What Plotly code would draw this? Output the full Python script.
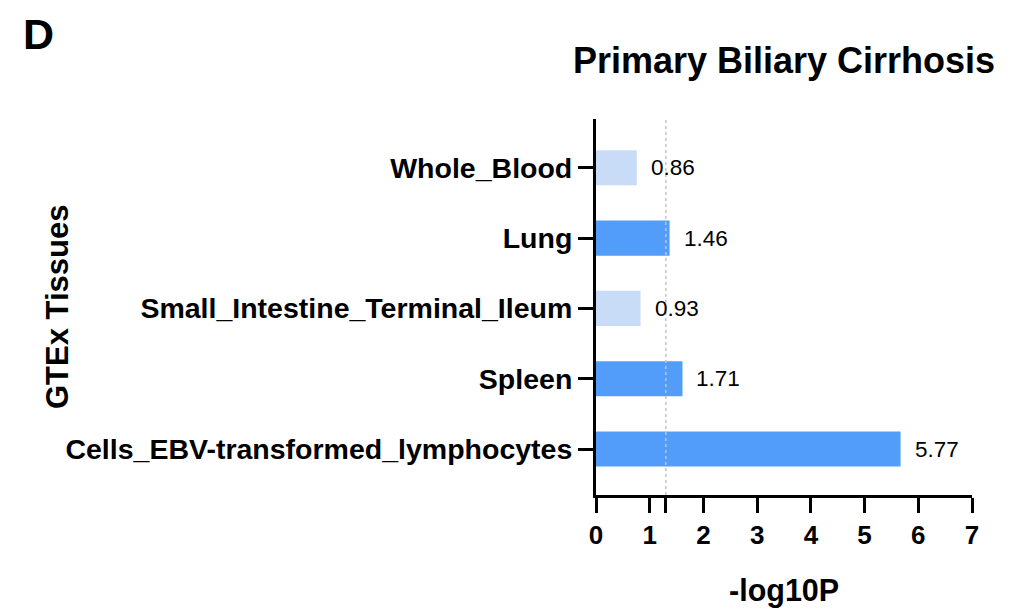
import plotly.graph_objects as go

# Data (bottom to top order as displayed)
tissues = ["Cells_EBV-transformed_lymphocytes", "Spleen", "Small_Intestine_Terminal_Ileum", "Lung", "Whole_Blood"]
bar_values = [5.67, 1.61, 0.83, 1.37, 0.76]
value_labels = ["5.77", "1.71", "0.93", "1.46", "0.86"]
significant = [True, True, False, True, False]
threshold = 1.3
x_tickvals = [0, 1, 1.3, 2, 3, 4, 5, 6, 7]
x_ticktext = ["0", "1", "", "2", "3", "4", "5", "6", "7"]

DARK = "#529DFA"
LIGHT = "#C8DCF7"
FONT = "Liberation Sans, Arial, sans-serif"

OFF = 8  # page body margin
W, H = 1022 - OFF, 610 - OFF
L, R, T, B = 596 - OFF, 50, 119 - OFF, 115
ph = H - T - B

fig = go.Figure()
fig.add_trace(go.Bar(
    x=bar_values, y=list(range(len(tissues))), orientation="h",
    marker=dict(color=[DARK if s else LIGHT for s in significant], line=dict(width=0)),
    width=0.5, hoverinfo="skip",
))

for i, (v, lab) in enumerate(zip(bar_values, value_labels)):
    fig.add_annotation(x=v, y=i, xref="x", yref="y", text=lab, showarrow=False,
                       xanchor="left", yanchor="middle", xshift=12,
                       font=dict(family=FONT, size=22.5, color="black"))

fig.add_shape(type="line", x0=threshold, x1=threshold, y0=-0.654, y1=4.694,
              xref="x", yref="y", layer="above",
              line=dict(color="#c4c4c4", width=1.5, dash="dot"))

def py(px):
    return (H - B - (px - OFF)) / ph

def px_x(px):
    return ((px - OFF) - L) / (W - L - R)

fig.add_annotation(x=0.5, y=py(590), xref="paper", yref="paper", text="<b>-log10P</b>",
                   showarrow=False, xanchor="center", yanchor="middle",
                   font=dict(family=FONT, size=30.5, color="black"))
fig.add_annotation(x=px_x(57), y=py(307), xref="paper", yref="paper", text="<b>GTEx Tissues</b>",
                   showarrow=False, xanchor="center", yanchor="middle", textangle=-90,
                   font=dict(family=FONT, size=31, color="black"))
fig.add_annotation(x=px_x(38), y=py(8), xref="paper", yref="paper", text="<b>D</b>",
                   showarrow=False, xanchor="center", yanchor="top",
                   font=dict(family=FONT, size=43, color="black"))

fig.update_layout(
    width=W, height=H,
    margin=dict(l=L, r=R, t=T, b=B, pad=0),
    plot_bgcolor="white", paper_bgcolor="white",
    showlegend=False,
    title=dict(text="<b>Primary Biliary Cirrhosis</b>", x=0.5, xref="paper", xanchor="center",
               y=1 - (60 - OFF) / H, yref="container", yanchor="middle",
               font=dict(family=FONT, size=36, color="black")),
    xaxis=dict(range=[0, 7], tickvals=x_tickvals, ticktext=x_ticktext,
               showgrid=False, zeroline=False, showline=True, linecolor="black", linewidth=3,
               ticks="outside", ticklen=15, tickwidth=3, tickcolor="black",
               tickfont=dict(family=FONT, size=26, color="black", weight="bold"),
               fixedrange=True),
    yaxis=dict(range=[-0.654, 4.694], tickvals=list(range(len(tissues))), ticktext=tissues,
               showgrid=False, zeroline=False, showline=True, linecolor="black", linewidth=3,
               ticks="outside", ticklen=15, tickwidth=3, tickcolor="black",
               tickfont=dict(family=FONT, size=28.5, color="black", weight="bold"),
               fixedrange=True),
)

fig.write_html("out.html")
